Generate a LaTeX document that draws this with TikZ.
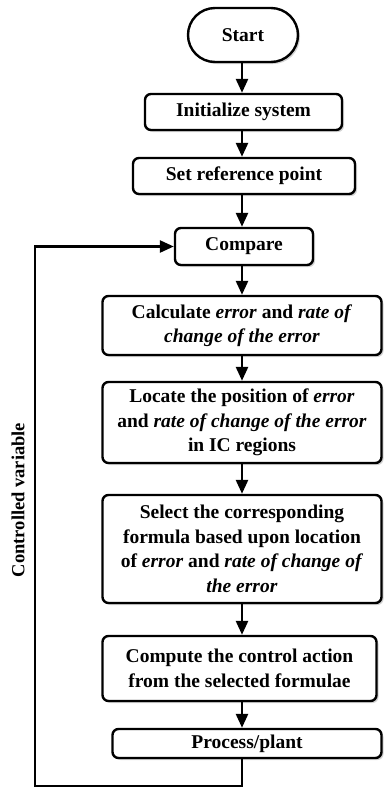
\documentclass[tikz,border=0pt]{standalone}
\usepackage{fontspec}
\setmainfont{Liberation Serif}
\usetikzlibrary{arrows.meta,shadows}
\tikzset{
  stepbox/.style={draw, line width=2.4pt, rounded corners=6pt, align=center,
    inner sep=0pt, fill=white, font=\fontsize{19.5}{24.5}\selectfont\bfseries,
    drop shadow={shadow xshift=2pt, shadow yshift=-2pt, fill=gray, opacity=0.35}},
  flow/.style={line width=2.6pt, -{Triangle[length=14pt,width=12pt]}}
}
\begin{document}
\begin{tikzpicture}[x=1pt,y=1pt]
      \useasboundingbox (0,0) rectangle (384,-788);
      \coordinate (axis) at (242,0);
      \node[stepbox, rounded corners=27pt, minimum width=110pt, minimum height=54pt] (start) at (243,-35) {Start};
      \node[stepbox, minimum width=197pt, minimum height=36pt] (init) at (243.5,-112) {Initialize system};
      \node[stepbox, minimum width=222pt, minimum height=36pt] (setref) at (244,-176) {Set reference point};
      \node[stepbox, minimum width=138pt, minimum height=37pt] (compare) at (244,-246.5) {Compare};
      \node[stepbox, minimum width=279pt, minimum height=59pt] (calc) at (242,-325.5)
        {Calculate \textit{error} and \textit{rate of}\\ \textit{change of the error}};
      \node[stepbox, minimum width=279pt, minimum height=81pt] (locate) at (242,-422.5)
        {Locate the position of \textit{error}\\ and \textit{rate of change of the error}\\ in IC regions};
      \node[stepbox, minimum width=279pt, minimum height=108pt] (select) at (242,-549)
        {Select the corresponding\\ formula based upon location\\ of \textit{error} and \textit{rate of change of}\\ \textit{the error}};
      \node[stepbox, minimum width=274pt, minimum height=65pt] (compute) at (239.5,-668.5)
        {Compute the control action\\ from the selected formulae};
      \node[stepbox, minimum width=269pt, minimum height=29pt] (process) at (247,-743.5) {Process/plant};
      \coordinate (corner) at (35,-786);
      \draw[flow] (axis |- start.south) -- (axis |- init.north);
      \draw[flow] (axis |- init.south) -- (axis |- setref.north);
      \draw[flow] (axis |- setref.south) -- (axis |- compare.north);
      \draw[flow] (axis |- compare.south) -- (axis |- calc.north);
      \draw[flow] (axis |- calc.south) -- (axis |- locate.north);
      \draw[flow] (axis |- locate.south) -- (axis |- select.north);
      \draw[flow] (axis |- select.south) -- (axis |- compute.north);
      \draw[flow] (axis |- compute.south) -- (axis |- process.north);
      \draw[flow] (axis |- process.south) -- (axis |- corner) -- (corner) -- (corner |- compare.west) -- (compare.west);
      \node[rotate=90, font=\fontsize{18.5}{22}\selectfont\bfseries] (ctrl) at (18,-500) {Controlled variable};
    \end{tikzpicture}
\end{document}
